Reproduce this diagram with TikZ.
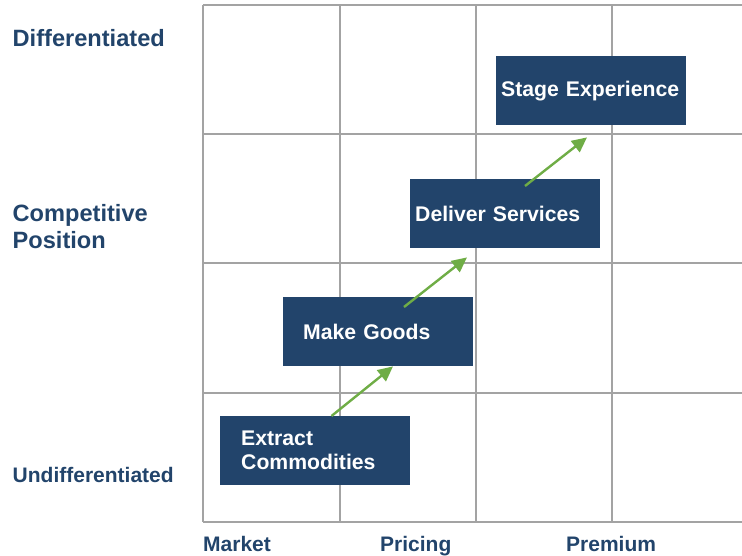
\documentclass[tikz,border=0pt]{standalone}
\usepackage{fontspec}
\setmainfont{Liberation Sans}
\usetikzlibrary{arrows.meta,calc}
\definecolor{navy}{HTML}{22446B}
\definecolor{gridgray}{HTML}{A3A3A3}
\definecolor{leafgreen}{HTML}{6FAD46}
\begin{document}
\begin{tikzpicture}[x=1pt,y=-1pt,
  gridline/.style={draw=gridgray,line width=2pt},
  stagebox/.style={fill=navy,text=white,anchor=north west,align=left,
    minimum width=190pt,minimum height=69pt,inner ysep=0pt,
    font=\fontsize{21.2}{24}\selectfont\bfseries},
  axislabel/.style={text=navy,anchor=base west,inner sep=0pt,align=left,
    font=\fontsize{23.6}{26.7}\selectfont\bfseries},
  pricelabel/.style={text=navy,anchor=base west,inner sep=0pt,
    font=\fontsize{21}{24}\selectfont\bfseries},
  flow/.style={draw=leafgreen,line width=2.4pt,
    -{Triangle[length=15pt,width=14pt]}}]
\useasboundingbox (0,0) rectangle (742,555);

% grid
\foreach \x in {203,339.5,475.5,611.5}
  \draw[gridline] (\x,5) -- (\x,521.5);
\foreach \y in {5,134,263,392.5,521.5}
  \draw[gridline] (203,\y) -- (742,\y);

% stages
\node[stagebox,inner xsep=21pt,text width=148pt] (ec) at (220,416) {Extract\\Commodities};
\node[stagebox,inner xsep=20pt,text width=150pt] (mg) at (283,297) {Make Goods};
\node[stagebox,inner xsep=5pt,text width=180pt] (ds) at (410,179) {Deliver Services};
\node[stagebox,inner xsep=5pt,text width=180pt] (se) at (496,56) {Stage Experience};

% progression arrows
\draw[flow] ($(ec.north west)+(111.5,0)$) -- ($(mg.south west)+(110,0)$);
\draw[flow] ($(mg.north west)+(121,10)$) -- ($(ds.south west)+(57,9)$);
\draw[flow] ($(ds.north west)+(115,7)$) -- ($(se.south west)+(91,12)$);

% vertical axis (base anchor sits on the last line)
\node[axislabel] (diff) at (12.5,46.5) {Differentiated};
\node[axislabel] (pos) at (12.5,248.3) {Competitive\\Position};
\node[axislabel,font=\fontsize{21}{24}\selectfont\bfseries] (undiff) at (12.5,482.3) {Undifferentiated};

% horizontal axis
\node[pricelabel] (market) at (203,551.7) {Market};
\node[pricelabel] (pricing) at (380,551.7) {Pricing};
\node[pricelabel] (premium) at (566,551.7) {Premium};
\end{tikzpicture}
\end{document}
